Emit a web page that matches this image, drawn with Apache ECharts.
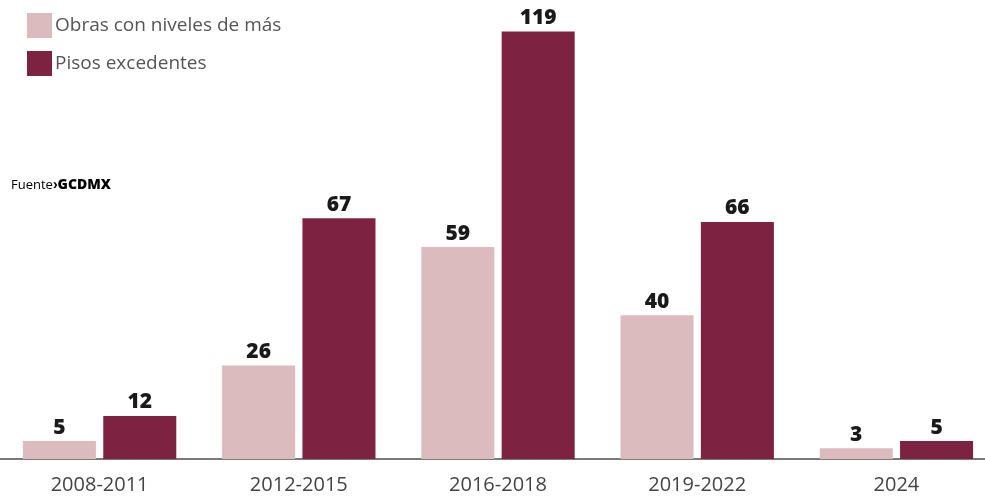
<!DOCTYPE html>
<html><head><meta charset="utf-8">
<script src="https://cdn.jsdelivr.net/npm/echarts@6/dist/echarts.min.js"></script>
<style>html,body{margin:0;padding:0;background:#fff;overflow:hidden}#c{width:996px;height:498px}</style>
</head><body><div id="c"></div>
<script>
const categories = ['2008-2011', '2012-2015', '2016-2018', '2019-2022', '2024'];
const obras = [5, 26, 59, 40, 3];
const pisos = [12, 67, 119, 66, 5];
const seriesNames = ['Obras con niveles de más', 'Pisos excedentes'];

const chart = echarts.init(document.getElementById('c'));
const labelStyle = {show: true, position: 'top', distance: 3, color: '#1a1a1a', fontSize: 21, fontWeight: 800, fontFamily: 'Open Sans'};
chart.setOption({
  animation: false,
  textStyle: {fontFamily: 'Open Sans'},
  legend: {
    orient: 'vertical', left: 22, top: 8, itemWidth: 25, itemHeight: 25, itemGap: 13, icon: 'rect',
    textStyle: {fontSize: 19, color: '#555', fontFamily: 'Open Sans', padding: [0, 0, 0, -2]},
    data: seriesNames
  },
  graphic: [{
    type: 'text', left: 11, top: 178,
    style: {rich: {a: {fontSize: 13, color: '#555', fontFamily: 'Open Sans'}, b: {fontSize: 14, color: '#7d2341', fontWeight: 'bold'}, c: {fontSize: 14, color: '#222', fontWeight: 800, fontFamily: 'Open Sans'}}, text: '{a|Fuente}{b|›}{c|GCDMX}'}
  }],
  grid: {left: 0, right: 0, top: 28, bottom: 39},
  xAxis: {
    type: 'category', data: categories,
    axisLine: {lineStyle: {color: '#7a7a7a', width: 2}},
    axisTick: {show: false},
    axisLabel: {fontSize: 20, color: '#444', margin: 16, fontFamily: 'Open Sans'}
  },
  yAxis: {type: 'value', min: 0, max: 120, show: false, splitLine: {show: false}},
  series: [
    {name: seriesNames[0], type: 'bar', data: obras, itemStyle: {color: '#dcbbbe'}, barGap: '10%', barCategoryGap: '23%', label: labelStyle},
    {name: seriesNames[1], type: 'bar', data: pisos, itemStyle: {color: '#7d2341'}, label: labelStyle}
  ]
});
</script></body></html>
